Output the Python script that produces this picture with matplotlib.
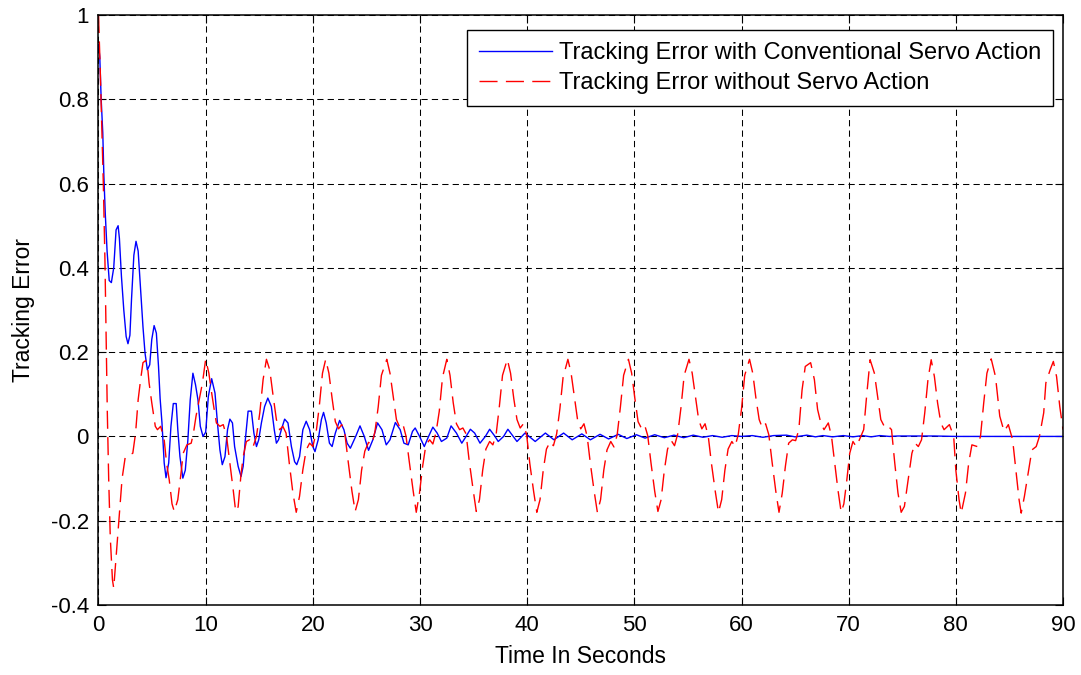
import matplotlib
matplotlib.use('Agg')
import matplotlib.pyplot as plt

plt.rcParams['font.family'] = ['Liberation Sans', 'DejaVu Sans']
plt.rcParams['axes.unicode_minus'] = False

# tracking error with conventional servo action (blue)
blue_t = [0, 0.12, 0.25, 0.4, 0.5, 0.63, 0.8, 1.0, 1.2, 1.42, 1.64, 1.83, 1.95,
          2.14, 2.36, 2.58, 2.75, 2.93, 3.08, 3.3, 3.5, 3.7, 3.93, 4.15, 4.34,
          4.56, 4.78, 4.97, 5.19, 5.4, 5.6, 5.75, 5.92, 6.13, 6.3, 6.55, 6.76,
          6.98, 7.25, 7.4, 7.6, 7.87, 8.1, 8.34, 8.56, 8.81, 9.05, 9.28, 9.5,
          9.75, 10.0, 10.25, 10.56, 10.87, 11.1, 11.33, 11.55, 11.8, 12.04,
          12.26, 12.5, 12.7, 13.03, 13.3, 13.5, 13.7, 13.96, 14.27, 14.5, 14.74,
          14.95, 15.2, 15.5, 15.8, 16.13, 16.4, 16.6, 16.8, 17.06, 17.37, 17.68,
          18.0, 18.3, 18.5, 18.76, 19.07, 19.38, 19.7, 20.0, 20.2, 20.5, 20.8,
          21.0, 21.25, 21.55, 21.8, 22.1, 22.5, 22.9, 23.2, 23.5, 24.0, 24.4,
          24.8, 25.2, 25.6, 26.04, 26.45, 26.85, 27.2, 27.7, 28.15, 28.5, 28.9,
          29.3, 29.55, 29.96, 30.4, 30.8, 31.2, 31.6, 32.0, 32.5, 32.9, 33.4,
          33.9, 34.3, 34.7, 35.1, 35.6, 36.1, 36.5, 37.0, 37.3, 37.8, 38.2,
          38.7, 39.05, 39.8, 40.75, 41.7, 42.5, 43.4, 44.2, 45.1, 45.9, 46.8,
          47.6, 48.5, 49.3, 50.2, 51.0, 51.9, 52.8, 53.7, 54.6, 55.5, 56.4,
          57.3, 58.2, 59.1, 60.0, 61.0, 62.0, 63.0, 64.2, 65.0, 66.1, 66.9,
          67.6, 68.5, 69.5, 70.4, 71.3, 72.1, 72.9, 73.8, 74.6, 76.4, 78.0,
          80.0, 90.0]
blue_v = [0.93, 0.90, 0.80, 0.72, 0.62, 0.53, 0.44, 0.37, 0.365, 0.40, 0.49, 0.50,
          0.47, 0.38, 0.30, 0.237, 0.22, 0.24, 0.325, 0.43, 0.463, 0.44, 0.35,
          0.26, 0.198, 0.158, 0.17, 0.23, 0.263, 0.245, 0.166, 0.09, 0.033,
          -0.063, -0.098, -0.063, 0.024, 0.078, 0.078, 0.016, -0.048, -0.099,
          -0.08, -0.008, 0.087, 0.15, 0.123, 0.087, 0.024, 0.0, 0.01, 0.095,
          0.137, 0.103, 0.032, -0.032, -0.067, -0.048, 0.016, 0.041, 0.032,
          -0.024, -0.071, -0.095, -0.071, -0.008, 0.06, 0.06, 0.008, -0.024,
          -0.008, 0.032, 0.071, 0.091, 0.071, 0.016, -0.016, -0.008, 0.016,
          0.041, 0.032, -0.024, -0.06, -0.067, -0.048, 0.016, 0.036, 0.016,
          -0.024, -0.036, -0.008, 0.04, 0.057, 0.032, -0.016, -0.024, 0.008,
          0.038, 0.016, -0.016, -0.028, 0.0, 0.025, 0.0, -0.033, -0.008, 0.032,
          0.016, -0.02, -0.008, 0.033, 0.016, -0.016, -0.02, 0.012, 0.02, 0.0,
          -0.024, 0.0, 0.022, 0.008, -0.012, -0.004, 0.025, 0.008, -0.016, 0.0,
          0.017, 0.008, -0.016, 0.0, 0.017, 0.0, -0.012, 0.0, 0.017, 0.0,
          -0.012, 0.008, -0.012, 0.008, -0.008, 0.008, -0.008, 0.006, -0.008,
          0.005, -0.006, 0.005, -0.005, 0.004, -0.004, 0.004, -0.003, 0.003,
          -0.003, 0.003, -0.002, 0.002, -0.002, 0.002, 0.0, 0.002, -0.002,
          0.002, 0.003, -0.001, 0.003, -0.001, 0.002, -0.001, 0.002, -0.001,
          0.002, -0.001, 0.002, 0.0, 0.001, 0.001, 0.001, 0.0, 0.0]

# tracking error without servo action (red, dashed)
red_t = [0, 0.15, 0.3, 0.45, 0.6, 0.73, 0.82, 0.95, 1.1, 1.3, 1.42, 1.6, 1.95,
         2.2, 2.5, 2.8, 3.2, 3.46, 3.7, 3.93, 4.15, 4.4, 4.6, 4.72, 4.97, 5.3,
         5.5, 5.8, 6.13, 6.35, 6.6, 6.86, 7.07, 7.4, 7.7, 7.9, 8.25, 8.65,
         8.86, 9.1, 9.4, 9.7,
         10.0, 10.3, 10.56, 10.8, 11.0, 11.33, 11.64, 11.95, 12.26, 12.57, 12.8,
         13.03, 13.28, 13.5, 13.8, 14.1, 14.43, 14.74, 15.05, 15.36,
         15.67, 15.98, 16.3, 16.6, 16.9, 17.2, 17.5, 17.8, 18.14, 18.45, 18.76,
         19.07, 19.38, 19.7, 20.0, 20.3, 20.6, 20.9,
         21.2, 21.5, 21.8, 22.1, 22.4, 22.7, 23.0, 23.3, 23.65, 23.95, 24.25,
         24.55, 24.85, 25.2, 25.5, 25.8, 26.1, 26.4,
         26.9, 27.2, 27.5, 27.8, 28.1, 28.4, 28.7, 29.0, 29.35, 29.65, 29.95,
         30.25, 30.55, 30.9, 31.2, 31.5, 31.8, 32.1,
         32.5, 32.8, 33.1, 33.4, 33.7, 34.0, 34.3, 34.6, 34.95, 35.25, 35.55,
         35.85, 36.15, 36.5, 36.8, 37.1, 37.4, 37.7,
         38.15, 38.45, 38.75, 39.05, 39.35, 39.65, 39.95, 40.25, 40.6, 40.9,
         41.2, 41.5, 41.8, 42.15, 42.45, 42.75, 43.05, 43.35,
         43.8, 44.1, 44.4, 44.7, 45.0, 45.3, 45.6, 45.9, 46.25, 46.55, 46.85,
         47.15, 47.45, 47.8, 48.1, 48.4, 48.7, 49.0,
         49.45, 49.75, 50.05, 50.35, 50.65, 50.95, 51.25, 51.55, 51.9, 52.2,
         52.5, 52.8, 53.1, 53.45, 53.75, 54.05, 54.35, 54.65,
         55.1, 55.4, 55.7, 56.0, 56.3, 56.6, 56.9, 57.2, 57.55, 57.85, 58.15,
         58.45, 58.75, 59.1, 59.4, 59.7, 60.0, 60.3,
         60.75, 61.05, 61.35, 61.65, 61.95, 62.25, 62.55, 62.85, 63.2, 63.5,
         63.8, 64.1, 64.4, 64.75, 65.05, 65.35, 65.65, 65.95,
         66.45, 66.8, 67.1, 67.4, 67.7, 68.1, 68.4, 68.7, 69.0, 69.3, 69.55,
         69.8, 70.1, 70.4, 70.7, 71.0, 71.4, 71.7,
         72.0, 72.4, 72.7, 73.0, 73.4, 73.7, 74.0, 74.3, 74.6, 74.9, 75.2,
         75.6, 75.9, 76.2, 76.5, 76.8, 77.1, 77.4,
         77.7, 78.0, 78.3, 78.6, 78.9, 79.4, 79.8, 80.0, 80.3, 80.5, 80.9,
         81.2, 81.5, 82.0, 82.3, 82.6, 82.9,
         83.3, 83.7, 84.1, 84.5, 84.9, 85.3, 85.6, 85.9, 86.1, 86.4, 86.8,
         87.1, 87.5, 87.8, 88.2, 88.4, 88.8,
         89.1, 89.4, 89.7, 90.0]
red_v = [1.0, 0.88, 0.74, 0.6, 0.42, 0.2, 0.06, -0.1, -0.24, -0.34, -0.36, -0.3,
         -0.18, -0.1, -0.048, -0.044, -0.04, 0.008, 0.087, 0.135, 0.175, 0.18,
         0.16, 0.127, 0.08, 0.024, 0.016, 0.024, -0.008, -0.063, -0.103, -0.16,
         -0.178, -0.15, -0.087, -0.04, -0.02, -0.016, 0.008, 0.048, 0.087, 0.127,
         0.183, 0.15, 0.103, 0.063, 0.032, 0.024, 0.028, 0.0, -0.063, -0.127,
         -0.178, -0.167, -0.095, -0.048, -0.012, -0.008, -0.024, 0.0, 0.056, 0.135,
         0.183, 0.158, 0.095, 0.04, 0.016, 0.024, 0.008, -0.063, -0.134, -0.18,
         -0.142, -0.079, -0.032, -0.016, -0.024, 0.008, 0.071, 0.15,
         0.183, 0.15, 0.09, 0.035, 0.018, 0.028, 0.004, -0.06, -0.13, -0.178,
         -0.15, -0.08, -0.035, -0.014, -0.02, 0.012, 0.07, 0.145,
         0.183, 0.15, 0.095, 0.04, 0.022, 0.03, 0.0, -0.06, -0.127, -0.18,
         -0.135, -0.07, -0.02, -0.008, -0.018, 0.01, 0.06, 0.14,
         0.183, 0.145, 0.08, 0.03, 0.016, 0.02, 0.006, -0.06, -0.125, -0.178,
         -0.15, -0.08, -0.03, -0.012, -0.02, 0.004, 0.07, 0.145,
         0.183, 0.15, 0.09, 0.04, 0.02, 0.03, 0.004, -0.065, -0.13, -0.18,
         -0.15, -0.08, -0.03, -0.012, -0.022, 0.006, 0.065, 0.14,
         0.183, 0.15, 0.095, 0.04, 0.018, 0.03, 0.0, -0.065, -0.13, -0.18,
         -0.15, -0.08, -0.032, -0.012, -0.025, 0.004, 0.07, 0.145,
         0.183, 0.15, 0.09, 0.035, 0.02, 0.028, 0.002, -0.062, -0.13, -0.178,
         -0.15, -0.08, -0.03, -0.01, -0.022, 0.006, 0.068, 0.145,
         0.183, 0.15, 0.095, 0.04, 0.018, 0.03, 0.0, -0.065, -0.13, -0.18,
         -0.15, -0.08, -0.03, -0.012, -0.024, 0.005, 0.065, 0.145,
         0.183, 0.15, 0.09, 0.04, 0.02, 0.03, 0.004, -0.06, -0.13, -0.18,
         -0.135, -0.07, -0.016, -0.008, -0.01, 0.016, 0.11, 0.166,
         0.175, 0.135, 0.064, 0.032, 0.016, 0.032, 0.0, -0.063, -0.127, -0.18,
         -0.16, -0.11, -0.04, -0.012, -0.024, -0.008, 0.016, 0.103,
         0.182, 0.15, 0.095, 0.04, 0.02, 0.024, 0.016, -0.063, -0.134, -0.18,
         -0.166, -0.095, -0.04, -0.016, -0.024, -0.008, 0.056, 0.135,
         0.182, 0.142, 0.079, 0.032, 0.016, 0.028, 0.0, -0.08, -0.15, -0.182,
         -0.134, -0.063, -0.02, -0.024, 0.0, 0.079, 0.15,
         0.184, 0.142, 0.048, 0.012, 0.028, -0.008, -0.08, -0.15, -0.182,
         -0.142, -0.08, -0.032, -0.024, 0.0, 0.056, 0.127, 0.158,
         0.178, 0.142, 0.071, 0.016]

x_ticks = [0, 10, 20, 30, 40, 50, 60, 70, 80, 90]
y_ticks = [-0.4, -0.2, 0, 0.2, 0.4, 0.6, 0.8, 1]
y_tick_labels = ['-0.4', '-0.2', '0', '0.2', '0.4', '0.6', '0.8', '1']

fig = plt.figure(figsize=(10.81, 6.75), dpi=100)
ax = fig.add_axes([98.5 / 1081, 70 / 675, 964.5 / 1081, 590 / 675])

ax.plot(blue_t, blue_v, color='#0000ff', lw=1.0,
        label='Tracking Error with Conventional Servo Action')
ax.plot(red_t, red_v, color='#ff0000', lw=1.0, linestyle=(0, (13, 6)),
        label='Tracking Error without Servo Action')

ax.set_xlim(0, 90)
ax.set_ylim(-0.4, 1)
ax.set_xticks(x_ticks)
ax.set_yticks(y_ticks)
ax.set_yticklabels(y_tick_labels)
ax.tick_params(direction='in', length=6, width=0.8, top=True, right=True,
               labelsize=16, pad=7)
ax.grid(True, color='black', linestyle=(0, (6, 4)), lw=0.75)
for s in ax.spines.values():
    s.set_linewidth(1.1)

ax.set_xlabel('Time In Seconds', fontsize=16.5, labelpad=7)
ax.set_ylabel('Tracking Error', fontsize=16.5, labelpad=11)

leg = ax.legend(loc='upper right', bbox_to_anchor=(0.9896, 0.9746),
                borderaxespad=0, fontsize=17, handlelength=3.1,
                handletextpad=0.3, labelspacing=0.34, borderpad=0.5,
                fancybox=False, framealpha=1, edgecolor='black')
leg.get_frame().set_linewidth(1.0)

fig.savefig('out.png', dpi=100)
